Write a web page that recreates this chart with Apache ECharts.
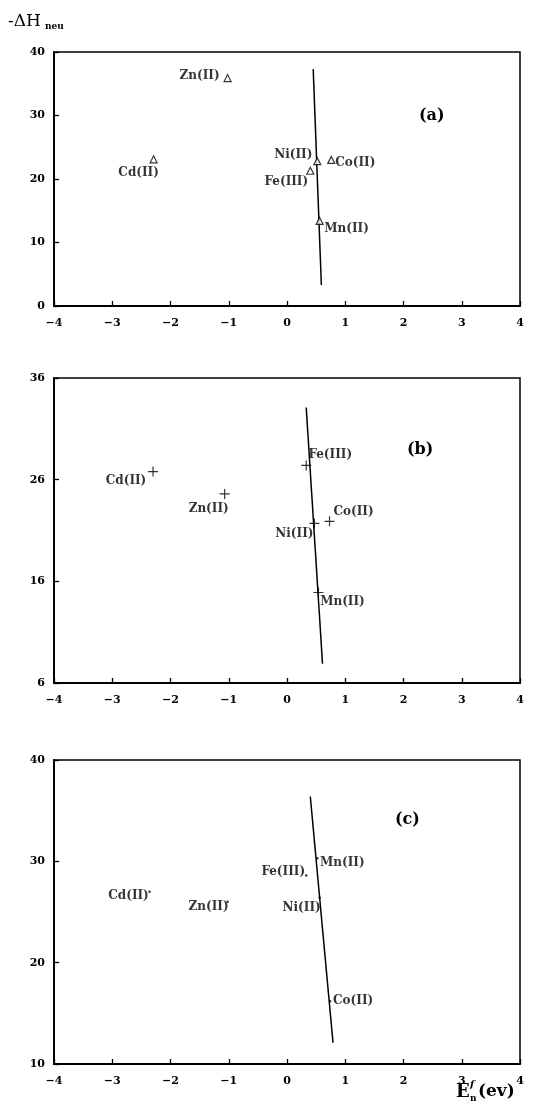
<!DOCTYPE html>
<html>
<head>
<meta charset="utf-8">
<script src="https://cdn.jsdelivr.net/npm/echarts@6/dist/echarts.min.js"></script>
<style>html,body{margin:0;padding:0;background:#fff;}#c{width:535px;height:1113px;}</style>
</head>
<body>
<div id="c"></div>
<script>
// ---------- data ----------
const xTicks = [-4, -3, -2, -1, 0, 1, 2, 3, 4];
const yTicksA = [0, 10, 20, 30, 40];
const yTicksB = [6, 16, 26, 36];
const yTicksC = [10, 20, 30, 40];

const ionsA = ['Zn(II)', 'Cd(II)', 'Ni(II)', 'Co(II)', 'Fe(III)', 'Mn(II)'];
const xA = [-1.02, -2.29, 0.52, 0.76, 0.40, 0.56];
const yA = [35.9, 23.1, 22.8, 23.0, 21.3, 13.4];
const lineA = [[0.45, 37.3], [0.59, 3.3]];

const ionsB = ['Cd(II)', 'Zn(II)', 'Fe(III)', 'Ni(II)', 'Co(II)', 'Mn(II)'];
const xB = [-2.30, -1.07, 0.33, 0.47, 0.73, 0.54];
const yB = [26.8, 24.6, 27.4, 21.7, 21.9, 14.9];
const lineB = [[0.33, 33.1], [0.61, 7.9]];

const ionsC = ['Cd(II)', 'Zn(II)', 'Fe(III)', 'Mn(II)', 'Ni(II)', 'Co(II)'];
const xC = [-2.36, -1.02, 0.33, 0.52, 0.56, 0.74];
const yC = [27.0, 26.0, 28.6, 30.3, 26.4, 16.2];
const lineC = [[0.40, 36.4], [0.79, 12.1]];

// ---------- styling / layout (not data) ----------
const offA = [[-28, -2], [-15, 14], [-24, -6], [24, 3], [-24, 11], [27, 8]];
const offB = [[-27, 9], [-16, 15], [24, -11], [-20, 10], [24, -9], [24, 9]];
const offC = [[-21, 4], [-19, 5], [-23, -4], [25, 5], [-18, 10], [23, 0]];

const SERIF = '"DejaVu Serif", "Liberation Serif", serif';
const fmtTick = v => String(v).replace('-', '\u2212');

const grids = [
  { left: 54, right: 15, top: 52, height: 254 },
  { left: 54, right: 15, top: 378, height: 305 },
  { left: 54, right: 15, top: 760, height: 304 }
].map(g => Object.assign(g, { show: true, borderColor: '#000', borderWidth: 1.5, containLabel: false }));

function xAxis(i) {
  return {
    gridIndex: i, type: 'value', min: xTicks[0], max: xTicks[xTicks.length - 1], interval: 1,
    axisLine: { show: true, onZero: false, lineStyle: { color: '#000', width: 2 } },
    axisTick: { show: true, inside: true, length: 5, lineStyle: { color: '#000', width: 1.3 } },
    axisLabel: { margin: 12, fontFamily: SERIF, fontWeight: 'bold', fontSize: 11, color: '#000', formatter: fmtTick },
    splitLine: { show: false }
  };
}
function yAxis(i, ticks) {
  return {
    gridIndex: i, type: 'value', min: ticks[0], max: ticks[ticks.length - 1], interval: ticks[1] - ticks[0],
    axisLine: { show: true, onZero: false, lineStyle: { color: '#000', width: 2 } },
    axisTick: { show: true, inside: true, length: 5, lineStyle: { color: '#000', width: 1.3 } },
    axisLabel: { margin: 9, fontFamily: SERIF, fontWeight: 'bold', fontSize: 11, color: '#000', formatter: fmtTick },
    splitLine: { show: false }
  };
}

const PLUS = 'path://M4.4,0h1.2v4.4h4.4v1.2h-4.4v4.4h-1.2v-4.4h-4.4v-1.2h4.4z';

function pointSeries(i, names, xs, ys, offs, sym) {
  return {
    type: 'scatter', xAxisIndex: i, yAxisIndex: i,
    symbol: sym.symbol, symbolSize: sym.size,
    itemStyle: sym.itemStyle,
    label: {
      show: true, position: 'inside', formatter: p => p.name,
      fontFamily: SERIF, fontWeight: 'bold', fontSize: 12, color: '#000',
      textBorderWidth: 0, align: 'center', verticalAlign: 'middle'
    },
    data: names.map((n, k) => ({ name: n, value: [xs[k], ys[k]], label: { offset: offs[k] } })),
    z: 3
  };
}
function lineSeries(i, pts) {
  return {
    type: 'line', xAxisIndex: i, yAxisIndex: i, data: pts, symbol: 'none',
    lineStyle: { color: '#000', width: 1.5 }, z: 2, silent: true
  };
}

const option = {
  backgroundColor: '#fff',
  animation: false,
  grid: grids,
  xAxis: [xAxis(0), xAxis(1), xAxis(2)],
  yAxis: [yAxis(0, yTicksA), yAxis(1, yTicksB), yAxis(2, yTicksC)],
  series: [
    lineSeries(0, lineA),
    pointSeries(0, ionsA, xA, yA, offA, { symbol: 'triangle', size: 7, itemStyle: { color: '#fff', borderColor: '#000', borderWidth: 1.2 } }),
    lineSeries(1, lineB),
    pointSeries(1, ionsB, xB, yB, offB, { symbol: PLUS, size: 10, itemStyle: { color: '#000' } }),
    lineSeries(2, lineC),
    pointSeries(2, ionsC, xC, yC, offC, { symbol: 'circle', size: 2.5, itemStyle: { color: '#000' } })
  ],
  graphic: [
    { type: 'text', left: 8, top: 13, style: { text: '-\u0394H', font: '17px ' + SERIF, fill: '#000' } },
    { type: 'text', left: 45, top: 22, style: { text: 'neu', font: 'bold 9px ' + SERIF, fill: '#000' } },
    { type: 'text', left: 419, top: 108, style: { text: '(a)', font: 'bold 16px ' + SERIF, fill: '#000' } },
    { type: 'text', left: 407, top: 442, style: { text: '(b)', font: 'bold 16px ' + SERIF, fill: '#000' } },
    { type: 'text', left: 395, top: 812, style: { text: '(c)', font: 'bold 16px ' + SERIF, fill: '#000' } },
    { type: 'text', left: 456, top: 1083, style: { text: 'E', font: 'bold 18px ' + SERIF, fill: '#000' } },
    { type: 'text', left: 470, top: 1079, style: { text: 'f', font: 'bold italic 10px ' + SERIF, fill: '#000' } },
    { type: 'text', left: 470, top: 1094, style: { text: 'n', font: 'bold 9px ' + SERIF, fill: '#000' } },
    { type: 'text', left: 478, top: 1083, style: { text: '(ev)', font: 'bold 17px ' + SERIF, fill: '#000' } }
  ]
};

const chart = echarts.init(document.getElementById('c'), null, { renderer: 'canvas' });
chart.setOption(option);
</script>
</body>
</html>
